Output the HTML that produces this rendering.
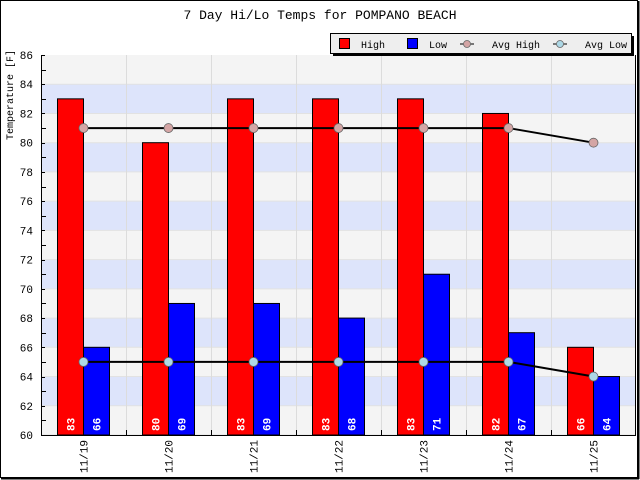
<!DOCTYPE html>
<html><head><meta charset="utf-8"><style>
html,body{margin:0;padding:0;background:#fff;}
svg{display:block;}
text{font-family:"Liberation Mono","DejaVu Sans Mono",monospace;}
</style></head><body>
<svg width="640" height="480" viewBox="0 0 640 480" xmlns="http://www.w3.org/2000/svg">
<rect x="0.5" y="0.5" width="637" height="477" fill="#fff" stroke="#000" stroke-width="1"/>
<line x1="638.5" y1="1" x2="638.5" y2="479" stroke="#000" stroke-width="2"/>
<line x1="1" y1="478.5" x2="639" y2="478.5" stroke="#000" stroke-width="2"/>
<text x="320" y="19" font-size="13" text-anchor="middle">7 Day Hi/Lo Temps for POMPANO BEACH</text>
<script>
const ns="http://www.w3.org/2000/svg";
const svg=document.currentScript.parentNode;
function el(t,a,p){const e=document.createElementNS(ns,t);for(const k in a)e.setAttribute(k,a[k]);(p||svg).appendChild(e);return e;}
const X0=41,X1=635,Y0=55,Y1=435,s=(Y1-Y0)/26;
const y=v=>Y1-(v-60)*s;
for(let i=0;i<13;i++){const v=60+2*i;el('rect',{x:X0,y:y(v+2),width:X1-X0,height:2*s,fill:(i%2==0)?'#f4f4f4':'#dde4fb'});}
for(let i=0;i<13;i++){el('line',{x1:X0,x2:X1,y1:y(60+2*i),y2:y(60+2*i),stroke:'#e2e2e2','stroke-width':1});}
for(let i=1;i<7;i++){const gx=X0+85*i+0.5;el('line',{x1:gx,x2:gx,y1:Y0,y2:Y1,stroke:'#dcdcdc','stroke-width':1});}
const hi=[83,80,83,83,83,82,66],lo=[66,69,69,68,71,67,64],ah=[81,81,81,81,81,81,80],al=[65,65,65,65,65,65,64];
const d=['11/19','11/20','11/21','11/22','11/23','11/24','11/25'];
for(let i=0;i<7;i++){const gx=X0+85*i;
el('rect',{x:gx+16.5,y:y(hi[i]),width:26,height:Y1-y(hi[i]),fill:'#ff0000',stroke:'#000','stroke-width':1});
el('rect',{x:gx+42.5,y:y(lo[i]),width:26,height:Y1-y(lo[i]),fill:'#0000ff',stroke:'#000','stroke-width':1});
let t=el('text',{x:0,y:0,'font-size':11,'font-weight':'bold',fill:'#fff',transform:`translate(${gx+33.5},431) rotate(-90)`});t.textContent=hi[i];
t=el('text',{x:0,y:0,'font-size':11,'font-weight':'bold',fill:'#fff',transform:`translate(${gx+59.5},431) rotate(-90)`});t.textContent=lo[i];
t=el('text',{x:0,y:0,'font-size':11,'text-anchor':'end',fill:'#000',transform:`translate(${gx+46.5},440) rotate(-90)`});t.textContent=d[i];
}
function line(arr,fill){let p=arr.map((v,i)=>`${X0+42.5+85*i},${y(v)}`).join(' ');
el('polyline',{points:p,fill:'none',stroke:'#000','stroke-width':2});
arr.forEach((v,i)=>{const cx=X0+42.5+85*i,cy=y(v);el('circle',{cx:cx,cy:cy,r:4.5,fill:fill,stroke:'#666','stroke-width':0.8});});}
line(ah,'#d4a5a5');line(al,'#add8e6');
el('line',{x1:X0+0.5,x2:X0+0.5,y1:Y0,y2:Y1,stroke:'#000'});
el('line',{x1:X0,x2:X1+1,y1:Y1+0.5,y2:Y1+0.5,stroke:'#000'});
el('line',{x1:X1+0.5,x2:X1+0.5,y1:Y0,y2:Y1+1,stroke:'#000'});
for(let v=60;v<=86;v++){el('line',{x1:X0,x2:X0+(v%2?5:4),y1:Math.round(y(v))+0.5,y2:Math.round(y(v))+0.5,stroke:'#000'});
if(v%2==0){const t=el('text',{x:33,y:y(v)+4,'font-size':11,'text-anchor':'end'});t.textContent=v;}}
for(let i=1;i<7;i++){const gx=X0+85*i+0.5;el('line',{x1:gx,x2:gx,y1:Y1-5,y2:Y1,stroke:'#000'});}
let t=el('text',{x:0,y:0,'font-size':10,transform:'translate(13,140) rotate(-90)'});t.textContent='Temperature [F]';
el('rect',{x:333,y:36,width:301,height:20,fill:'#000'});
el('rect',{x:330.5,y:33.5,width:301,height:20,fill:'#eee',stroke:'#000'});
el('rect',{x:339.5,y:38.5,width:10,height:10,fill:'#ff0000',stroke:'#000'});
el('rect',{x:407.5,y:38.5,width:10,height:10,fill:'#0000ff',stroke:'#000'});
[[467,'#d4a5a5'],[560,'#add8e6']].forEach(([cx,f])=>{el('line',{x1:cx-7,x2:cx+7,y1:44,y2:44,stroke:'#000'});el('circle',{cx:cx,cy:44,r:3.5,fill:f,stroke:'#666','stroke-width':0.8});});
[[361,'High'],[429,'Low'],[492,'Avg High'],[585,'Avg Low']].forEach(([x,s])=>{const t=el('text',{x:x,y:48,'font-size':10});t.textContent=s;});
</script>
</svg>
</body></html>
